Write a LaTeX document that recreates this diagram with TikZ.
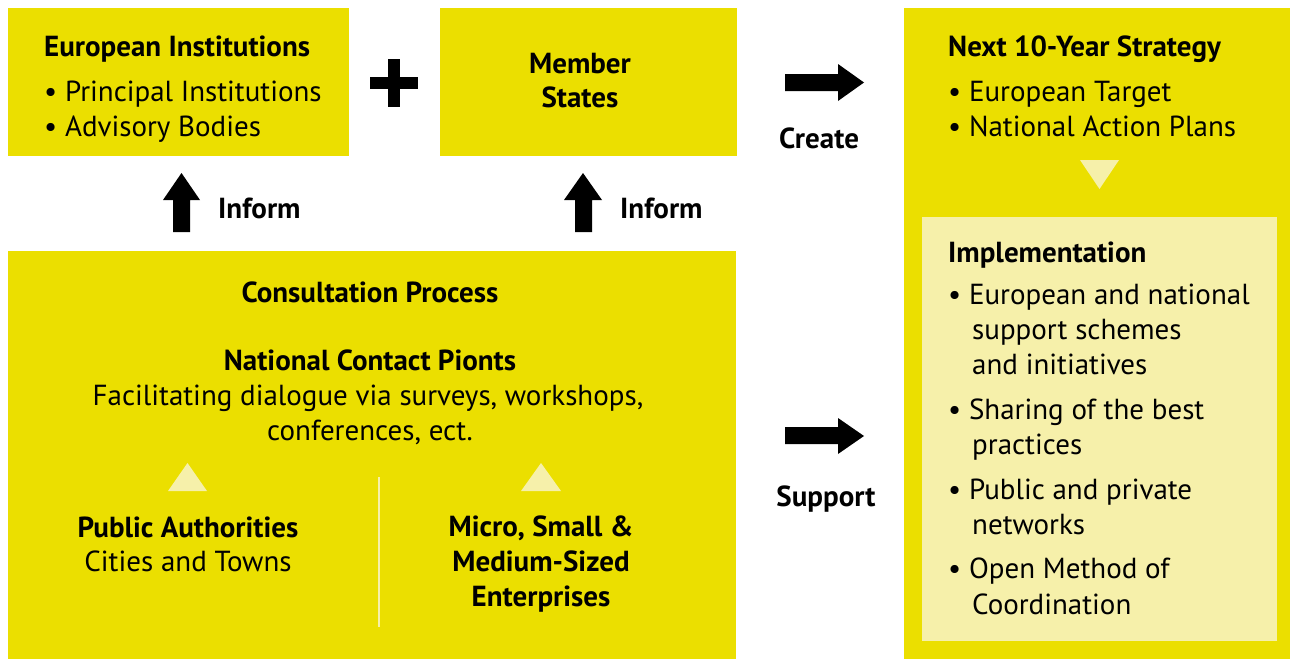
\documentclass[tikz,border=0pt]{standalone}
\usepackage{fontspec}
\setmainfont{PT Sans}
\definecolor{ylw}{RGB}{235,223,0}
\definecolor{lyl}{RGB}{246,240,170}
\begin{document}
\begin{tikzpicture}[x=1pt,y=-1pt,
  box/.style={fill=ylw,draw=none,inner sep=0pt},
  lbox/.style={fill=lyl,draw=none,inner sep=0pt},
  txt/.style={inner sep=0pt,font=\fontsize{29}{35}\selectfont},
  btxt/.style={inner sep=0pt,font=\fontsize{29}{35}\selectfont\bfseries},
  blk/.style={fill=black,draw=none},
  ltri/.style={fill=lyl,draw=none}]
\useasboundingbox (0,0) rectangle (1298,659);
% boxes
\node[box,anchor=north west,minimum width=341pt,minimum height=148pt] (ei) at (8,8) {};
\node[box,anchor=north west,minimum width=297pt,minimum height=148pt] (ms) at (440,8) {};
\node[box,anchor=north west,minimum width=386pt,minimum height=651pt] (ns) at (904,8) {};
\node[lbox,anchor=north west,minimum width=355pt,minimum height=424pt] (imp) at (922,217) {};
\node[box,anchor=north west,minimum width=728pt,minimum height=408pt] (cp) at (8,251) {};
% European Institutions
\node[btxt,anchor=base west] (eit) at (44,56.5) {European Institutions};
\node[txt,anchor=base west] (eib1) at (44,101) {• Principal Institutions};
\node[txt,anchor=base west] (eib2) at (44,136) {• Advisory Bodies};
% plus
\fill[blk] (370,77) rectangle (418,89);
\fill[blk] (388,59) rectangle (400,107);
% Member States
\node[btxt,anchor=base] (ms1) at (580,73) {Member};
\node[btxt,anchor=base] (ms2) at (580,107) {States};
% Create arrow
\fill[blk] (785,74) -- (838,74) -- (838,64) -- (864,82.5) -- (838,101) -- (838,91) -- (785,91) -- cycle;
\node[btxt,anchor=base] (cr) at (819,148) {Create};
% Next strategy
\node[btxt,anchor=base west] (nst) at (948,56.5) {Next 10-Year Strategy};
\node[txt,anchor=base west] (nsb1) at (948,101) {• European Target};
\node[txt,anchor=base west] (nsb2) at (948,136) {• National Action Plans};
\fill[ltri] (1080,160) -- (1119,160) -- (1099.5,189) -- cycle;
% Implementation
\node[btxt,anchor=base west] (impt) at (948,262) {Implementation};
\node[txt,anchor=base west] (i1) at (948,304) {• European and national};
\node[txt,anchor=base west] (i1b) at (972,339) {support schemes};
\node[txt,anchor=base west] (i1c) at (972,374) {and initiatives};
\node[txt,anchor=base west] (i2) at (948,419) {• Sharing of the best};
\node[txt,anchor=base west] (i2b) at (972,454) {practices};
\node[txt,anchor=base west] (i3) at (948,499) {• Public and private};
\node[txt,anchor=base west] (i3b) at (972,534) {networks};
\node[txt,anchor=base west] (i4) at (948,578) {• Open Method of};
\node[txt,anchor=base west] (i4b) at (972,614) {Coordination};
% Inform arrows
\fill[blk] (173,232) -- (173,200) -- (163,200) -- (181.5,173) -- (200,200) -- (190,200) -- (190,232) -- cycle;
\node[btxt,anchor=base west] (inf1) at (218,218) {Inform};
\fill[blk] (575,232) -- (575,200) -- (564,200) -- (583,173) -- (602,200) -- (592,200) -- (592,232) -- cycle;
\node[btxt,anchor=base west] (inf2) at (620,218) {Inform};
% Support arrow
\fill[blk] (785,427) -- (838,427) -- (838,418) -- (864,436) -- (838,454) -- (838,444) -- (785,444) -- cycle;
\node[btxt,anchor=base] (sup) at (826,506) {Support};
% Consultation
\node[btxt,anchor=base] (cpt) at (370,302) {Consultation Process};
\node[btxt,anchor=base] (ncp) at (370,370) {National Contact Pionts};
\node[txt,anchor=base] (fd1) at (368,405) {Facilitating dialogue via surveys, workshops,};
\node[txt,anchor=base] (fd2) at (370,440) {conferences, ect.};
\fill[ltri] (168,491) -- (207,491) -- (187.5,463) -- cycle;
\fill[ltri] (521,491) -- (561,491) -- (541,463) -- cycle;
\draw[lyl,line width=2.5pt] (379,477) -- (379,627);
\node[btxt,anchor=base] (pa) at (188,537) {Public Authorities};
\node[txt,anchor=base] (pa2) at (188,571) {Cities and Towns};
\node[btxt,anchor=base] (me1) at (541,536) {Micro, Small \&};
\node[btxt,anchor=base] (me2) at (541,571) {Medium-Sized};
\node[btxt,anchor=base] (me3) at (541,606) {Enterprises};
\end{tikzpicture}
\end{document}
